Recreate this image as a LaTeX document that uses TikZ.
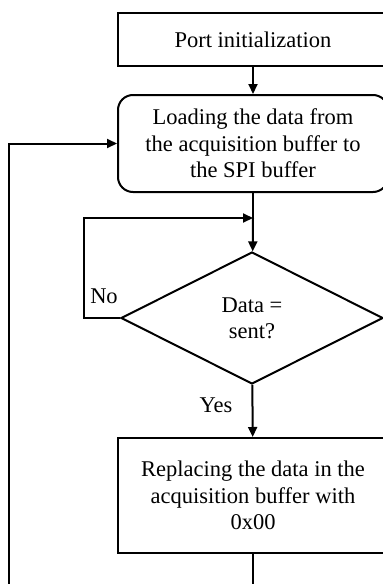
\documentclass[tikz,border=0pt]{standalone}
\usepackage{fontspec}
\setmainfont{Liberation Serif}
\usepackage{tikz}
\usetikzlibrary{arrows.meta,shapes.geometric}

\tikzset{
  stepbox/.style={draw, line width=1pt, minimum width=135pt, inner sep=0pt,
    align=center, font=\fontsize{11.25}{13.2}\selectfont},
  decision/.style={draw, diamond, line width=1pt, minimum width=131pt,
    minimum height=66pt, inner sep=0pt, align=center,
    font=\fontsize{11.25}{13.2}\selectfont},
  flow/.style={line width=1pt, -{Triangle[length=5pt,width=4.5pt]}},
  tag/.style={font=\fontsize{11.25}{13.2}\selectfont, inner sep=0pt}
}

\begin{document}
\begin{tikzpicture}[x=0.5pt, y=-0.5pt]
  \useasboundingbox (0,0) rectangle (383,584);
  \clip (0,0) rectangle (383,584);
  % boxes
  \node[stepbox, minimum height=26.5pt] (init) at (253,39.5) {Port initialization};
  \node[stepbox, rounded corners=7.5pt, minimum height=48.5pt] (load) at (253,143.5)
    {Loading the data from\\the acquisition buffer to\\the SPI buffer};
  \node[decision] (sent) at (252,318) {Data =\\sent?};
  \node[stepbox, minimum height=57.5pt] (clear) at (253,495.5)
    {Replacing the data in the\\acquisition buffer with\\0x00};
  % loop points
  \coordinate (merge) at (253,218);
  \coordinate (noturn) at (84,218);
  \coordinate (backB) at (253,584);
  \coordinate (backL) at (9,584);
  % arrows
  \draw[flow] (init) -- (load);
  \draw[line width=1pt] (load) -- (merge);
  \draw[flow] (merge) -- (sent);
  \draw[flow] (sent.west) -| (noturn) -- (merge);
  \draw[flow] (sent) -- (clear);
  \draw[line width=1pt] (clear) -- (backB);
  \draw[flow] (backL) |- (load.west);
  % labels
  \node[tag] (nolbl) at (104,296) {No};
  \node[tag] (yeslbl) at (216,405) {Yes};
\end{tikzpicture}
\end{document}
